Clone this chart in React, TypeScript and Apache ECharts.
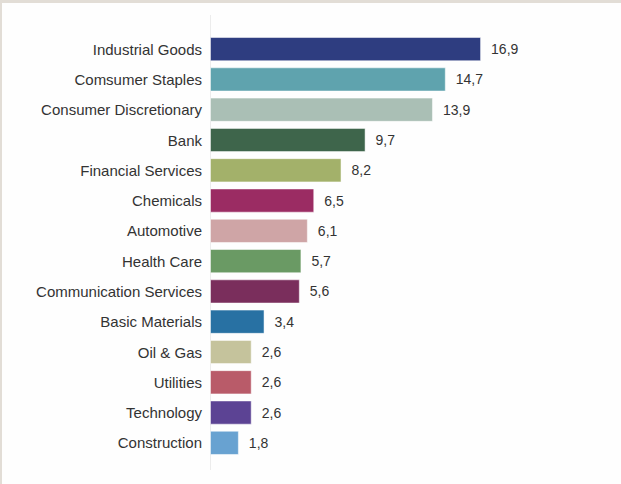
import React, { useEffect, useRef } from "react";
import * as echarts from "echarts";

const categories = [
  "Industrial Goods",
  "Comsumer Staples",
  "Consumer Discretionary",
  "Bank",
  "Financial Services",
  "Chemicals",
  "Automotive",
  "Health Care",
  "Communication Services",
  "Basic Materials",
  "Oil & Gas",
  "Utilities",
  "Technology",
  "Construction",
];

const values = [16.9, 14.7, 13.9, 9.7, 8.2, 6.5, 6.1, 5.7, 5.6, 3.4, 2.6, 2.6, 2.6, 1.8];

const colors = [
  "#2e3d80",
  "#5fa3ae",
  "#aabfb5",
  "#3e654b",
  "#a3b16a",
  "#9b2c63",
  "#cfa5a6",
  "#6a9a64",
  "#7a2e5c",
  "#2871a3",
  "#c5c39c",
  "#b95b69",
  "#5c4394",
  "#68a2d1",
];

export default function App() {
  const ref = useRef<HTMLDivElement>(null);
  useEffect(() => {
    document.body.style.margin = "0";
    const chart = echarts.init(ref.current!, null, { renderer: "svg" });
    const font = "'Liberation Sans', Arial, sans-serif";
    chart.setOption({
      animation: false,
      backgroundColor: "#fefefe",
      grid: { left: 210, top: 34, bottom: 26, width: 320.8, containLabel: false },
      xAxis: {
        type: "value",
        min: 0,
        max: 20,
        show: false,
      },
      yAxis: {
        type: "category",
        data: categories,
        inverse: true,
        axisLine: { show: false },
        axisTick: { show: false },
        axisLabel: { color: "#333333", fontSize: 15, fontFamily: font, margin: 8 },
      },
      graphic: [
        { type: "rect", shape: { x: 0, y: 0, width: 621, height: 3 }, style: { fill: "#e2ddd6" }, silent: true },
        { type: "rect", shape: { x: 0, y: 0, width: 2, height: 484 }, style: { fill: "#e2ddd6" }, silent: true },
        { type: "line", shape: { x1: 210.5, y1: 15, x2: 210.5, y2: 470 }, style: { stroke: "#ececec", lineWidth: 1 }, silent: true },
      ],
      series: [
        {
          type: "bar",
          data: values.map((v, i) => ({ value: v, itemStyle: { color: colors[i] } })),
          barCategoryGap: "20%",
          itemStyle: { borderColor: "rgba(255,255,255,0.5)", borderWidth: 1 },
          label: {
            show: true,
            position: "right",
            distance: 10,
            color: "#333333",
            fontSize: 14,
            fontFamily: font,
            formatter: (p: any) => String(p.value).replace(".", ","),
          },
        },
      ],
    });
    return () => chart.dispose();
  }, []);
  return <div ref={ref} style={{ position: "absolute", left: 0, top: 0, width: 621, height: 484 }} />;
}
